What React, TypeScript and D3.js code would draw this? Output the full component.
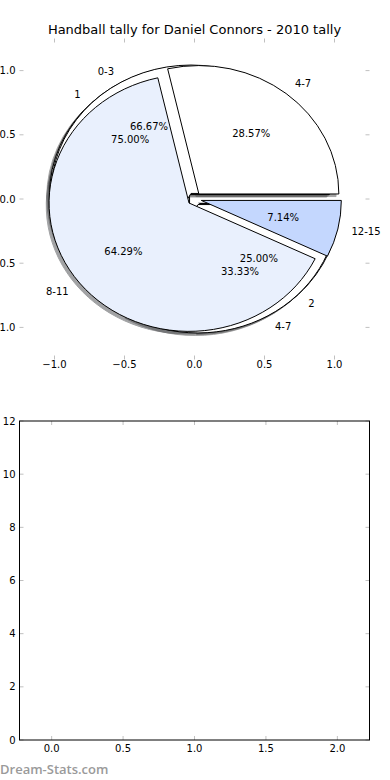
import * as d3 from "d3";

const title = "Handball tally for Daniel Connors - 2010 tally";

// three pies drawn on the same axes (bottom to top: B, C, A)
const pieALabels = ["4-7", "8-11", "12-15"];
const pieAValues = [4, 9, 1];
const pieAColors = ["#ffffff", "#e9f0fd", "#c4d7fe"];

const pieBLabels = ["1", "2"];
const pieBValues = [3, 1];
const pieBColors = ["#ffffff", "#e9f0fd"];

const pieCLabels = ["0-3", "4-7"];
const pieCValues = [2, 1];
const pieCColors = ["#ffffff", "#ffffff"];

const pieTicks = [-1, -0.5, 0, 0.5, 1];
const barXTicks = [0, 0.5, 1, 1.5, 2];
const barYTicks = [0, 2, 4, 6, 8, 10, 12];

const W = 390;
const H = 780;
const FONT = "'DejaVu Sans', sans-serif";
const TICK = "#c0c0c0";

const explode = 0.05;

// pie axes
const px = d3.scaleLinear().domain([-1.25, 1.25]).range([19.5, 369.5]);
const py = d3.scaleLinear().domain([-1.25, 1.25]).range([359.5, 38.5]);

// empty bar axes
const bx = d3.scaleLinear().domain([-0.225, 2.225]).range([19.5, 369.5]);
const by = d3.scaleLinear().domain([0, 12]).range([740, 421]);

const pctFmt = d3.format(".2f");
const tickFmt = (v: number) => d3.format(".1f")(v).replace("-", "\u2212");

// matplotlib style: counter-clockwise from 3 o'clock
const pieLayout = d3
  .pie<number>()
  .sort(null)
  .startAngle(Math.PI / 2)
  .endAngle(Math.PI / 2 - 2 * Math.PI);

const unitArc = d3.arc<any>().innerRadius(0).outerRadius(1);

type Wedge = {
  key: string;
  label: string;
  pct: string;
  color: string;
  d: string;
  cx: number;
  cy: number;
  mid: number;
};

function buildPie(name: string, labels: string[], values: number[], colors: string[]): Wedge[] {
  const total = d3.sum(values);
  return pieLayout(values).map((a, i) => {
    const mid = Math.PI / 2 - (a.startAngle + a.endAngle) / 2;
    return {
      key: `${name}-${i}`,
      label: labels[i],
      pct: pctFmt((values[i] / total) * 100) + "%",
      color: colors[i],
      d: unitArc({ startAngle: a.startAngle, endAngle: a.endAngle }) as string,
      cx: explode * Math.cos(mid),
      cy: explode * Math.sin(mid),
      mid,
    };
  });
}

const pies = [
  buildPie("b", pieBLabels, pieBValues, pieBColors),
  buildPie("c", pieCLabels, pieCValues, pieCColors),
  buildPie("a", pieALabels, pieAValues, pieAColors),
];
const wedges = pies.flat();

const kx = px(1) - px(0);
const ky = py(0) - py(1);

function shadowColor(c: string) {
  const r = d3.rgb(c);
  return d3.rgb(r.r * 0.3, r.g * 0.3, r.b * 0.3).formatHex();
}

function Ticks({
  xs, ys, x0, x1, y0, y1,
}: { xs: number[]; ys: number[]; x0: number; x1: number; y0: number; y1: number }) {
  const len = 4;
  return (
    <g stroke={TICK} strokeWidth={1}>
      {xs.map((x) => (
        <g key={`x${x}`}>
          <line x1={x} x2={x} y1={y0} y2={y0 + len} />
          <line x1={x} x2={x} y1={y1} y2={y1 - len} />
        </g>
      ))}
      {ys.map((y) => (
        <g key={`y${y}`}>
          <line x1={x0} x2={x0 + len} y1={y} y2={y} />
          <line x1={x1} x2={x1 - len} y1={y} y2={y} />
        </g>
      ))}
    </g>
  );
}

export default function App() {
  const [pxa, pxb] = px.range();
  const [pyb, pya] = py.range();
  const [bxa, bxb] = bx.range();
  const [byb, bya] = by.range();

  return (
    <svg
      width={W}
      height={H}
      style={{ position: "absolute", left: 0, top: 0, background: "#fff" }}
      fontFamily={FONT}
    >
      <rect width={W} height={H} fill="#fff" />

      <text x={(pxa + pxb) / 2} y={34} textAnchor="middle" fontSize={13} fill="#000">
        {title}
      </text>

      {/* shadows sit below every wedge */}
      {wedges.map((w) => {
        const sc = shadowColor(w.color);
        return (
          <path
            key={`s-${w.key}`}
            d={w.d}
            transform={`translate(${px(w.cx - 0.02)},${py(w.cy - 0.02)}) scale(${kx},${ky})`}
            fill={sc}
            stroke={sc}
            strokeWidth={1}
            opacity={0.5}
            vectorEffect="non-scaling-stroke"
          />
        );
      })}

      {wedges.map((w) => (
        <path
          key={w.key}
          d={w.d}
          transform={`translate(${px(w.cx)},${py(w.cy)}) scale(${kx},${ky})`}
          fill={w.color}
          stroke="#000"
          strokeWidth={1}
          strokeLinejoin="miter"
          vectorEffect="non-scaling-stroke"
        />
      ))}

      <g fontSize={10} fill="#000">
        {wedges.map((w) => {
          const lx = w.cx + 1.1 * Math.cos(w.mid);
          const ly = w.cy + 1.1 * Math.sin(w.mid);
          const tx = w.cx + 0.6 * Math.cos(w.mid);
          const ty = w.cy + 0.6 * Math.sin(w.mid);
          return (
            <g key={`t-${w.key}`}>
              <text
                x={px(lx)}
                y={py(ly)}
                textAnchor={lx > 0 ? "start" : "end"}
                dominantBaseline="central"
              >
                {w.label}
              </text>
              <text x={px(tx)} y={py(ty)} textAnchor="middle" dominantBaseline="central">
                {w.pct}
              </text>
            </g>
          );
        })}
      </g>

      {/* pie axes: frame off, ticks only */}
      <Ticks
        xs={pieTicks.map(px)}
        ys={pieTicks.map(py)}
        x0={pxa}
        x1={pxb}
        y0={pya}
        y1={pyb}
      />
      <g fontSize={10} fill="#000">
        {pieTicks.map((t) => (
          <text key={`px${t}`} x={px(t)} y={368} textAnchor="middle">
            {tickFmt(t)}
          </text>
        ))}
        {pieTicks.map((t) => (
          <text
            key={`py${t}`}
            x={pxa - 4}
            y={py(t)}
            textAnchor="end"
            dominantBaseline="central"
          >
            {tickFmt(t)}
          </text>
        ))}
      </g>

      {/* empty lower axes */}
      <Ticks
        xs={barXTicks.map(bx)}
        ys={barYTicks.map(by)}
        x0={bxa}
        x1={bxb}
        y0={bya}
        y1={byb}
      />
      <rect
        x={bxa}
        y={bya}
        width={bxb - bxa}
        height={byb - bya}
        fill="none"
        stroke="#000"
        strokeWidth={1}
      />
      <g fontSize={10} fill="#000">
        {barXTicks.map((t) => (
          <text key={`bx${t}`} x={bx(t)} y={752} textAnchor="middle">
            {tickFmt(t)}
          </text>
        ))}
        {barYTicks.map((t) => (
          <text
            key={`by${t}`}
            x={bxa - 4}
            y={by(t)}
            textAnchor="end"
            dominantBaseline="central"
          >
            {t}
          </text>
        ))}
      </g>

      <text
        x={0}
        y={774}
        fontFamily="'Open Sans', sans-serif"
        fontWeight={600}
        fontSize={13}
        fill="#9a9a9a"
      >
        Dream-Stats.com
      </text>
    </svg>
  );
}
